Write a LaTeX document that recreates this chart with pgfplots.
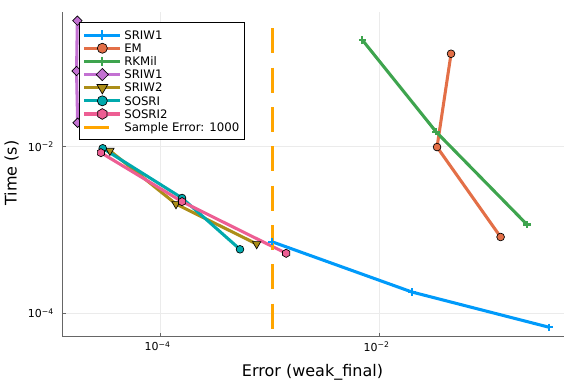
\documentclass[border=0pt]{standalone}
\usepackage{fontspec}
\setmainfont{DejaVu Sans}
\usepackage{pgfplots}
\pgfplotsset{compat=1.18}
\usetikzlibrary{plotmarks}

\definecolor{c1}{RGB}{0,154,250}
\definecolor{c2}{RGB}{227,111,71}
\definecolor{c3}{RGB}{62,164,78}
\definecolor{c4}{RGB}{195,113,210}
\definecolor{c5}{RGB}{172,142,24}
\definecolor{c6}{RGB}{0,169,173}
\definecolor{c7}{RGB}{237,94,147}
\definecolor{corange}{RGB}{255,165,0}

\pgfdeclareplotmark{hexagon*}{%
  \pgfpathmoveto{\pgfqpointpolar{90}{\pgfplotmarksize}}%
  \pgfpathlineto{\pgfqpointpolar{150}{\pgfplotmarksize}}%
  \pgfpathlineto{\pgfqpointpolar{210}{\pgfplotmarksize}}%
  \pgfpathlineto{\pgfqpointpolar{270}{\pgfplotmarksize}}%
  \pgfpathlineto{\pgfqpointpolar{330}{\pgfplotmarksize}}%
  \pgfpathlineto{\pgfqpointpolar{30}{\pgfplotmarksize}}%
  \pgfpathclose
  \pgfusepathqfillstroke}

\begin{document}
\begin{tikzpicture}
\useasboundingbox (0,0) rectangle (432pt,288pt);
\begin{axis}[
  at={(47.0pt,35.5pt)}, anchor=south west,
  scale only axis, width=376.35pt, height=243.75pt,
  xmode=log, ymode=log,
  xmin=1.292e-5, xmax=0.494, ymin=5.24e-5, ymax=0.418,
  axis x line*=bottom, axis y line*=left,
  x axis line style={-, black!60, line width=0.75pt},
  y axis line style={-, black!60, line width=0.75pt},
  xtick={1e-4,1e-2}, ytick={1e-4,1e-2},
  xticklabels={10\textsuperscript{−4},10\textsuperscript{−2}},
  yticklabels={10\textsuperscript{−4},10\textsuperscript{−2}},
  minor tick num=0, xminorticks=false, yminorticks=false,
  tick align=inside, major tick length=2.5pt,
  tick style={black!60, line width=0.6pt},
  grid=major, grid style={black!8, line width=0.5pt},
  tick label style={font=\fontsize{8.25}{10}\selectfont},
  xticklabel style={anchor=north, inner sep=0pt, yshift=-3.5pt, xshift=-1.8pt},
  yticklabel style={anchor=east, inner sep=0pt, xshift=-6.3pt},
  xlabel={Error (weak\_final)},
  ylabel={Time (s)},
  label style={font=\fontsize{12}{14}\selectfont},
  xlabel style={at={(axis description cs:0.5,0)}, anchor=base, yshift=-30pt, xshift=-0.8pt},
  ylabel style={at={(axis description cs:0,0.5)}, anchor=base, yshift=34.5pt, xshift=0.9pt},
  legend style={at={(0.0331,0.9674)}, anchor=north west,
    draw=black, line width=0.6pt, fill=white,
    font=\fontsize{8.8}{9.86}\selectfont,
    inner xsep=3.5pt, inner ysep=4.4pt, row sep=0pt,
    cells={anchor=base west},
    nodes={inner sep=0pt, text height=8.13pt, text depth=1.73pt}},
  legend image code/.code={%
    \draw[overlay,mark repeat=2,mark phase=2,#1,/tikz/every mark/.append style={scale=1.3}]
      plot coordinates {(0pt,3.2pt) (13.5pt,3.2pt) (27pt,3.2pt)};
    \path[draw=none, fill=none, line width=0pt] (0pt,-1.73pt) (30pt,8.13pt);},
  every axis plot/.append style={line width=2.3pt},
]
\addplot[c1, mark=+, mark size=2.7pt, mark options={line width=1.7pt}]
  coordinates {(1.05e-3,7.24e-4) (0.0200,1.80e-4) (0.359,6.79e-5)};
\addlegendentry{SRIW1}
\addplot[c2, mark=*, mark size=2.9pt, mark options={fill=c2, draw=black, line width=0.5pt}]
  coordinates {(0.0455,0.1306) (0.0339,9.9e-3) (0.129,8.24e-4)};
\addlegendentry{EM}
\addplot[c3, mark=+, mark size=2.7pt, mark options={line width=1.7pt}]
  coordinates {(7.05e-3,0.191) (0.0332,0.0151) (0.225,1.16e-3)};
\addlegendentry{RKMil}
\addplot[c4, mark=square*, mark size=2.5pt, mark options={rotate=45, fill=c4, draw=black, line width=0.5pt}]
  coordinates {(1.76e-5,0.326) (1.73e-5,0.0811) (1.77e-5,0.0194)};
\addlegendentry{SRIW1}
\addplot[c5, mark=triangle*, mark size=3.6pt, mark options={rotate=180, fill=c5, draw=black, line width=0.5pt}]
  coordinates {(3.49e-5,8.95e-3) (1.40e-4,2.05e-3) (7.64e-4,6.79e-4)};
\addlegendentry{SRIW2}
\addplot[c6, mark=*, mark size=2.9pt, mark options={fill=c6, draw=black, line width=0.5pt}]
  coordinates {(3.0e-5,9.57e-3) (1.59e-4,2.42e-3) (5.38e-4,5.86e-4)};
\addlegendentry{SOSRI}
\addplot[c7, mark=hexagon*, mark size=3.1pt, mark options={fill=c7, draw=black, line width=0.5pt}]
  coordinates {(2.89e-5,8.47e-3) (1.59e-4,2.19e-3) (1.42e-3,5.25e-4)};
\addlegendentry{SOSRI2}
\addplot[corange, no marks, dash pattern=on 18.75pt off 10.75pt]
  coordinates {(1.07e-3,0.2636) (1.07e-3,6.53e-5)};
\addlegendentry{Sample Error: 1000}
\end{axis}
\end{tikzpicture}
\end{document}
